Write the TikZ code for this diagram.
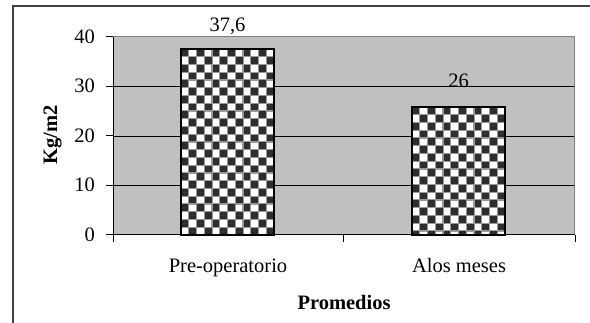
\documentclass[tikz,border=0pt]{standalone}
\usepackage{fontspec}
\setmainfont{Liberation Serif}
\definecolor{plotgray}{HTML}{C0C0C0}
\definecolor{framegray}{HTML}{404040}
\definecolor{bordergray}{HTML}{808080}
\definecolor{checkdark}{HTML}{2E2E2E}
\definecolor{grout}{HTML}{9A9A9A}
\newcommand\mycheckerbar[3]{% x0, y0 (top), rows
  \foreach \j in {0,...,#3}{%
    \pgfmathtruncatemacro\off{mod(\j,2)}%
    \pgfmathtruncatemacro\offw{1-\off}%
    \foreach \i in {0,2,...,10}{%
      \fill[checkdark] ({#1+(\i+\off)*7.75+0.5},{#2+\j*7.75+0.5}) rectangle ++(6.75,6.75);
      \fill[white] ({#1+(\i+\offw)*7.75+0.7},{#2+\j*7.75+0.7}) rectangle ++(6.35,6.35);
    }%
  }%
}
\begin{document}
\begin{tikzpicture}[x=1pt,y=-1pt,
  lbl/.style={font=\fontsize{20.5}{24}\selectfont, inner sep=0pt},
  boldlbl/.style={font=\fontsize{20.5}{24}\selectfont\bfseries, inner sep=0pt},
  gridln/.style={black, line width=0.8pt},
  axisln/.style={black, line width=1pt},
  barbox/.style={draw=black, line width=1.4pt}]
\useasboundingbox (0,0) rectangle (590,323);
% outer frame
\draw[framegray, line width=1.6pt] (13,340) -- (13,6) -- (600,6);
% plot area
\fill[plotgray] (113,37) rectangle (574,235);
\draw[bordergray, line width=1pt] (113,37) -- (574,37) -- (574,235);
% gridlines
\foreach \yy in {86.5,136,185.5}{\draw[gridln] (113,\yy) -- (574,\yy);}
% bars
\begin{scope}
  \clip (181,49) rectangle (274,235);
  \fill[grout] (181,49) rectangle (274,235);
  \mycheckerbar{181}{49}{24}
\end{scope}
\draw[barbox] (181,49) rectangle (274,235);
\begin{scope}
  \clip (412,107) rectangle (505,235);
  \fill[grout] (412,107) rectangle (505,235);
  \mycheckerbar{412}{107}{16}
\end{scope}
\draw[barbox] (412,107) rectangle (505,235);
% axes
\draw[axisln] (113,37) -- (113,235) -- (575,235);
\foreach \yy in {37,86.5,136,185.5,235}{\draw[axisln] (106,\yy) -- (113,\yy);}
\foreach \xx in {113,343.5,575}{\draw[axisln] (\xx,235) -- (\xx,242);}
% tick labels
\node[lbl, anchor=base east] (t40) at (95,43.5) {40};
\node[lbl, anchor=base east] (t30) at (95,93) {30};
\node[lbl, anchor=base east] (t20) at (95,142.5) {20};
\node[lbl, anchor=base east] (t10) at (95,192) {10};
\node[lbl, anchor=base east] (t0) at (95,241.5) {0};
% value labels
\node[lbl, anchor=base] (v1) at (227.5,32) {37,6};
\node[lbl, anchor=base] (v2) at (458.5,88) {26};
% category labels
\node[lbl, anchor=base] (c1) at (228,273) {Pre-operatorio};
\node[lbl, anchor=base] (c2) at (459,272.5) {Alos meses};
% axis titles
\node[boldlbl, anchor=base] (xt) at (344,310) {Promedios};
\node[boldlbl, anchor=base, rotate=90] (yt) at (57,135) {Kg/m2};
\end{tikzpicture}
\end{document}
